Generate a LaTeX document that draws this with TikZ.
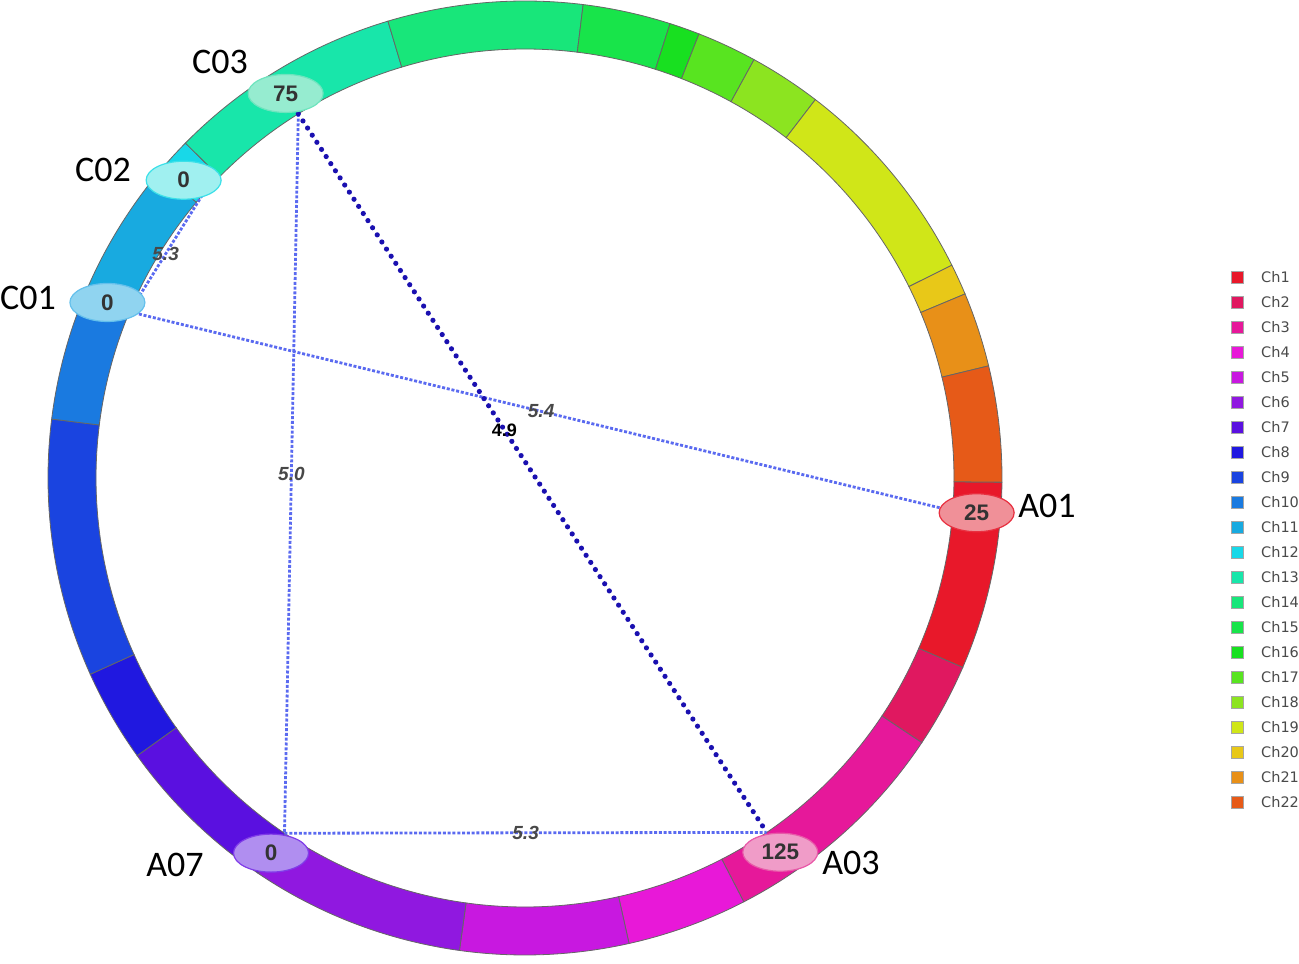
\documentclass[tikz,border=0pt]{standalone}
\usepackage{fontspec}
\setmainfont{Liberation Sans}
\newfontfamily\calfont{Carlito}
\newfontfamily\legfont{DejaVu Sans}
\usetikzlibrary{shapes.geometric}
\definecolor{c1}{HTML}{E8182A}
\definecolor{c2}{HTML}{E01860}
\definecolor{c3}{HTML}{E6189A}
\definecolor{c4}{HTML}{E818D8}
\definecolor{c5}{HTML}{C818E0}
\definecolor{c6}{HTML}{9018E0}
\definecolor{c7}{HTML}{5A10E0}
\definecolor{c8}{HTML}{2018E0}
\definecolor{c9}{HTML}{1A44E0}
\definecolor{c10}{HTML}{1A7AE0}
\definecolor{c11}{HTML}{18AAE0}
\definecolor{c12}{HTML}{18D8E8}
\definecolor{c13}{HTML}{18E6AA}
\definecolor{c14}{HTML}{18E67A}
\definecolor{c15}{HTML}{18E44A}
\definecolor{c16}{HTML}{18E020}
\definecolor{c17}{HTML}{58E420}
\definecolor{c18}{HTML}{8CE420}
\definecolor{c19}{HTML}{D0E618}
\definecolor{c20}{HTML}{E8C818}
\definecolor{c21}{HTML}{E89018}
\definecolor{c22}{HTML}{E65A18}
\definecolor{lightln}{HTML}{5A6AF0}
\definecolor{darkln}{HTML}{1A10B0}
\definecolor{txtgray}{HTML}{484848}
\definecolor{leggray}{HTML}{4A4A4A}
\begin{document}
\begin{tikzpicture}[x=1pt,y=-1pt,
  seg/.style={draw=black!60,line width=0.8pt},
  mk/.style={ellipse,minimum width=75pt,minimum height=38pt,inner sep=0pt,line width=1.2pt,
     font=\fontsize{22.5}{22.5}\selectfont\bfseries,text=black!80},
  lab/.style={font=\calfont\fontsize{36}{36}\selectfont,text=black,inner sep=0pt},
  lightline/.style={draw=lightln,line width=2.8pt,dash pattern=on 3pt off 1.8pt},
  darkline/.style={draw=darkln,line width=5.2pt,line cap=round,dash pattern=on 0pt off 8.5pt},
  dist/.style={font=\fontsize{19}{19}\selectfont\bfseries\itshape,text=txtgray,inner sep=0pt},
  legsq/.style={minimum size=12pt,inner sep=0pt,draw=black!35,line width=0.5pt},
  legtext/.style={font=\legfont\fontsize{14.5}{14.5}\selectfont,text=leggray,inner sep=0pt,anchor=west}]
\useasboundingbox (0,0) rectangle (1299,964);
\begin{scope}[shift={(525,478)}]
  \foreach \a/\b/\c in {359.5/336.6/c1,336.6/326.3/c2,326.3/297.3/c3,297.3/282.6/c4,
      282.6/262.1/c5,262.1/236/c6,236/215.6/c7,215.6/204.3/c8,204.3/172.9/c9,
      172.9/157.3/c10,157.3/140/c11,140/135.4/c12,135.4/106.7/c13,106.7/83/c14,
      83/72.3/c15,72.3/68.6/c16,68.6/61.3/c17,61.3/52.5/c18,52.5/26.5/c19,
      26.5/22.7/c20,22.7/13.6/c21,13.6/-0.5/c22}{
    \filldraw[seg,fill=\c] (\a:477pt) arc[start angle=\a,end angle=\b,radius=477pt]
       -- (\b:429pt) arc[start angle=\b,end angle=\a,radius=429pt] -- cycle;
  }
  \coordinate (pA01) at (-4.4:429pt);
  \coordinate (pA03) at (304.3:429pt);
  \coordinate (pA07) at (235.9:429pt);
  \coordinate (pC01) at (157.2:429pt);
  \coordinate (pC02) at (138.9:429pt);
  \coordinate (pC03) at (121.9:429pt);
\end{scope}
% connectors
\draw[lightline] (pC01) -- node[dist]{5.4} (pA01);
\draw[lightline] (pC03) -- node[dist]{5.0} (pA07);
\draw[lightline] (pA07) -- node[dist]{5.3} (pA03);
\draw[lightline] (pC01) -- node[dist]{5.3} (pC02);
\draw[darkline] (pC03) -- node[pos=0.44,font=\fontsize{18}{18}\selectfont\bfseries,text=black,inner sep=0pt]{4.9} (pA03);
% markers
\begin{scope}[shift={(525,478)}]
  \node[mk,fill={rgb,255:red,150;green,236;blue,208},draw={rgb,255:red,110;green,228;blue,190}] (C03) at (121.9:453pt) {75};
  \node[mk,fill={rgb,255:red,160;green,240;blue,240},draw={rgb,255:red,60;green,224;blue,232}] (C02) at (138.9:453pt) {0};
  \node[mk,fill={rgb,255:red,144;green,212;blue,240},draw={rgb,255:red,100;green,192;blue,236}] (C01) at (157.2:453pt) {0};
  \node[mk,fill={rgb,255:red,240;green,144;blue,152},draw={rgb,255:red,232;green,48;blue,64}] (A01) at (-4.4:453pt) {25};
  \node[mk,fill={rgb,255:red,240;green,156;blue,200},draw={rgb,255:red,232;green,88;blue,168}] (A03) at (304.3:453pt) {125};
  \node[mk,fill={rgb,255:red,176;green,142;blue,240},draw={rgb,255:red,128;green,60;blue,232}] (A07) at (235.9:453pt) {0};
\end{scope}
% marker labels
\node[lab] (tC03) at (220,62) {C03};
\node[lab] (tC02) at (103,170) {C02};
\node[lab] (tC01) at (28,298) {C01};
\node[lab] (tA01) at (1047,506) {A01};
\node[lab] (tA03) at (851,863) {A03};
\node[lab] (tA07) at (175,865) {A07};
% legend
\foreach \i [count=\k from 0] in {1,...,22}{
  \node[legsq,fill=c\i] (sq\i) at (1237,277+25*\k) {};
  \node[legtext] (lt\i) at (1261,277+25*\k) {Ch\i};
}
\end{tikzpicture}
\end{document}
